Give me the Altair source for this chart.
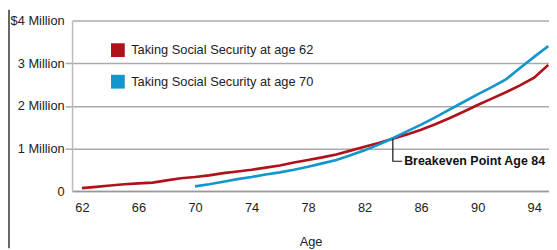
import altair as alt
import pandas as pd

# ---- data (values in millions of dollars) ----
ages_62 = list(range(62, 96))
values_62 = [0.07, 0.10, 0.13, 0.16, 0.18, 0.20, 0.25, 0.30, 0.33, 0.37,
             0.42, 0.46, 0.50, 0.55, 0.60, 0.67, 0.73, 0.79, 0.86, 0.95,
             1.04, 1.13, 1.23, 1.33, 1.44, 1.57, 1.71, 1.86, 2.02, 2.17,
             2.32, 2.48, 2.66, 2.96]
ages_70 = list(range(70, 96))
values_70 = [0.11, 0.16, 0.22, 0.28, 0.33, 0.39, 0.44, 0.50, 0.57, 0.65,
             0.73, 0.84, 0.96, 1.09, 1.24, 1.40, 1.56, 1.73, 1.91, 2.09,
             2.27, 2.44, 2.62, 2.89, 3.15, 3.40]
series_names = ["Taking Social Security at age 62", "Taking Social Security at age 70"]
series_colors = ["#b0121b", "#1296cc"]

x_ticks = [62, 66, 70, 74, 78, 82, 86, 90, 94]
y_ticks = [0, 1, 2, 3, 4]
y_tick_labels = ["0", "1 Million", "2 Million", "3 Million", "$4 Million"]

callout_ages = [84, 84, 84.66]
callout_values = [1.23, 0.70, 0.70]
callout_text = "Breakeven Point Age 84"
callout_text_age = 84.8

FONT = "Liberation Sans"

rows = []
for a, v in zip(ages_62, values_62):
    rows.append({"age": a, "value": v * 1e6, "series": series_names[0]})
for a, v in zip(ages_70, values_70):
    rows.append({"age": a, "value": v * 1e6, "series": series_names[1]})
df = pd.DataFrame(rows)

callout_df = pd.DataFrame({"age": callout_ages,
                           "value": [v * 1e6 for v in callout_values],
                           "order": list(range(len(callout_ages)))})
text_df = pd.DataFrame({"age": [callout_text_age],
                        "value": [callout_values[1] * 1e6],
                        "label": [callout_text]})

label_expr = " : ".join(
    [f"datum.value == {t * 1e6:.0f} ? '{l}'" for t, l in zip(y_ticks, y_tick_labels)]
) + " : ''"

x_scale = alt.Scale(domain=[61.3, 95.05], nice=False, zero=False)
y_scale = alt.Scale(domain=[0, 4e6], nice=False)

lines = alt.Chart(df).mark_line(strokeWidth=2.7, clip=True).encode(
    x=alt.X("age:Q", scale=x_scale,
            axis=alt.Axis(values=x_ticks, format="d", title="Age", ticks=False,
                          grid=False, labelPadding=11, titlePadding=21,
                          domainColor="#999", domainWidth=1.5)),
    y=alt.Y("value:Q", scale=y_scale,
            axis=alt.Axis(values=[t * 1e6 for t in y_ticks], labelExpr=label_expr,
                          title=None, tickSize=7, labelPadding=1,
                          tickColor={"condition": {"test": "datum.value == 0 || datum.value == 4000000",
                                                   "value": "transparent"},
                                     "value": "#aaa"},
                          tickWidth=1.5, grid=True, gridColor="#aaa", gridWidth=1.5,
                          domainColor="#bbb", domainWidth=1.5)),
    color=alt.Color("series:N",
                    scale=alt.Scale(domain=series_names, range=series_colors),
                    legend=alt.Legend(title=None, orient="none", legendX=39.5, legendY=23,
                                      symbolType="square", symbolSize=49,
                                      symbolStrokeWidth=7, labelOffset=6.5,
                                      rowPadding=-4, padding=0, labelLimit=400,
                                      labelFont=FONT, labelFontSize=13,
                                      labelColor="#222")),
)

callout = alt.Chart(callout_df).mark_line(color="#111", strokeWidth=1.2).encode(
    x="age:Q", y="value:Q", order="order:Q"
)

text = alt.Chart(text_df).mark_text(
    align="left", baseline="middle", font=FONT, fontSize=12.6, fontWeight="bold",
    color="#111"
).encode(x="age:Q", y="value:Q", text="label:N")

frame = alt.Chart(text_df).mark_rule(color="#333", strokeWidth=1.5).encode(
    x=alt.value(-64), y=alt.value(-11), y2=alt.value(231)
)

chart = alt.layer(lines, callout, text, frame).properties(
    width=484, height=173,
    padding={"left": 65, "top": 11, "right": 0, "bottom": 58},
    autosize="none",
).configure_view(stroke=None).configure_axis(
    labelFont=FONT, labelFontSize=13, labelColor="#222",
    titleFont=FONT, titleFontSize=13, titleColor="#222", titleFontWeight="normal",
)

chart.save("out.html", embed_options={"renderer": "svg", "actions": False})
